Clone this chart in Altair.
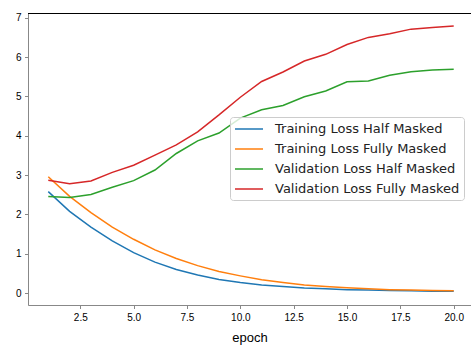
import altair as alt
import pandas as pd

epochs = list(range(1, 21))
train_half = [2.58, 2.08, 1.68, 1.33, 1.03, 0.79, 0.60, 0.46, 0.35, 0.27,
              0.21, 0.17, 0.13, 0.11, 0.09, 0.08, 0.07, 0.06, 0.05, 0.05]
train_full = [2.96, 2.46, 2.05, 1.68, 1.37, 1.10, 0.88, 0.70, 0.55, 0.44,
              0.34, 0.27, 0.21, 0.17, 0.14, 0.11, 0.09, 0.08, 0.07, 0.06]
val_half = [2.46, 2.43, 2.51, 2.69, 2.86, 3.13, 3.55, 3.87, 4.07, 4.45,
            4.66, 4.77, 4.99, 5.14, 5.37, 5.39, 5.54, 5.63, 5.67, 5.69]
val_full = [2.87, 2.78, 2.85, 3.07, 3.25, 3.51, 3.77, 4.10, 4.53, 4.98,
            5.38, 5.62, 5.90, 6.07, 6.32, 6.50, 6.59, 6.71, 6.75, 6.79]

series_names = ["Training Loss Half Masked", "Training Loss Fully Masked",
                "Validation Loss Half Masked", "Validation Loss Fully Masked"]
series_vals = [train_half, train_full, val_half, val_full]
colors = ["#1f77b4", "#ff7f0e", "#2ca02c", "#d62728"]
x_ticks = [2.5, 5.0, 7.5, 10.0, 12.5, 15.0, 17.5, 20.0]
y_ticks = [0, 1, 2, 3, 4, 5, 6, 7]

rows = []
for order, (name, vals) in enumerate(zip(series_names, series_vals)):
    for e, v in zip(epochs, vals):
        rows.append({"epoch": e, "loss": v, "series": name, "order": order})
df = pd.DataFrame(rows)

W, H = 443, 292

lines = alt.Chart(df).mark_line(strokeWidth=1.5).encode(
    x=alt.X("epoch:Q",
            scale=alt.Scale(domain=[0.05, 20.81], nice=False, zero=False),
            axis=alt.Axis(values=x_ticks, format=".1f", title="epoch",
                          grid=False, tickSize=3.5, labelPadding=3.5,
                          titlePadding=9, titleFontWeight="normal",
                          titleFontSize=13)),
    y=alt.Y("loss:Q",
            scale=alt.Scale(domain=[-0.3, 7.12], nice=False, zero=False),
            axis=alt.Axis(values=y_ticks, format="d", title=None,
                          grid=False, tickSize=3.5, labelPadding=3.5)),
    color=alt.Color("series:N",
                    scale=alt.Scale(domain=series_names, range=colors),
                    legend=alt.Legend(
                        title=None, orient="none", legendX=202, legendY=104,
                        symbolType="M-1,0H3", symbolSize=196,
                        symbolStrokeWidth=1.5, labelFontSize=13,
                        labelFont="DejaVu Sans", labelColor="#222",
                        labelLimit=400,
                        fillColor="rgba(255,255,255,0.8)",
                        strokeColor="#cccccc", cornerRadius=3,
                        padding=4, rowPadding=5, labelOffset=25)),
    order="order:Q",
)

top_spine = alt.Chart(df).mark_rule(color="#000", strokeWidth=1).encode(
    x=alt.value(0), x2=alt.value(W), y=alt.value(0.5))

chart = alt.layer(lines, top_spine).properties(
    width=W, height=H,
    autosize=alt.AutoSizeParams(type="none"),
    padding={"left": 28, "top": 13, "right": 0, "bottom": 45},
).configure_view(stroke=None).configure_axis(
    labelFont="DejaVu Sans", labelFontSize=13, labelColor="#222",
    titleFont="DejaVu Sans", titleFontSize=13, titleColor="#222",
    titleFontWeight="normal",
    domainColor="#000", tickColor="#000", domainWidth=1, tickWidth=1,
).configure(background="white")

chart.save("out.html", embed_options={"renderer": "svg", "actions": False})
